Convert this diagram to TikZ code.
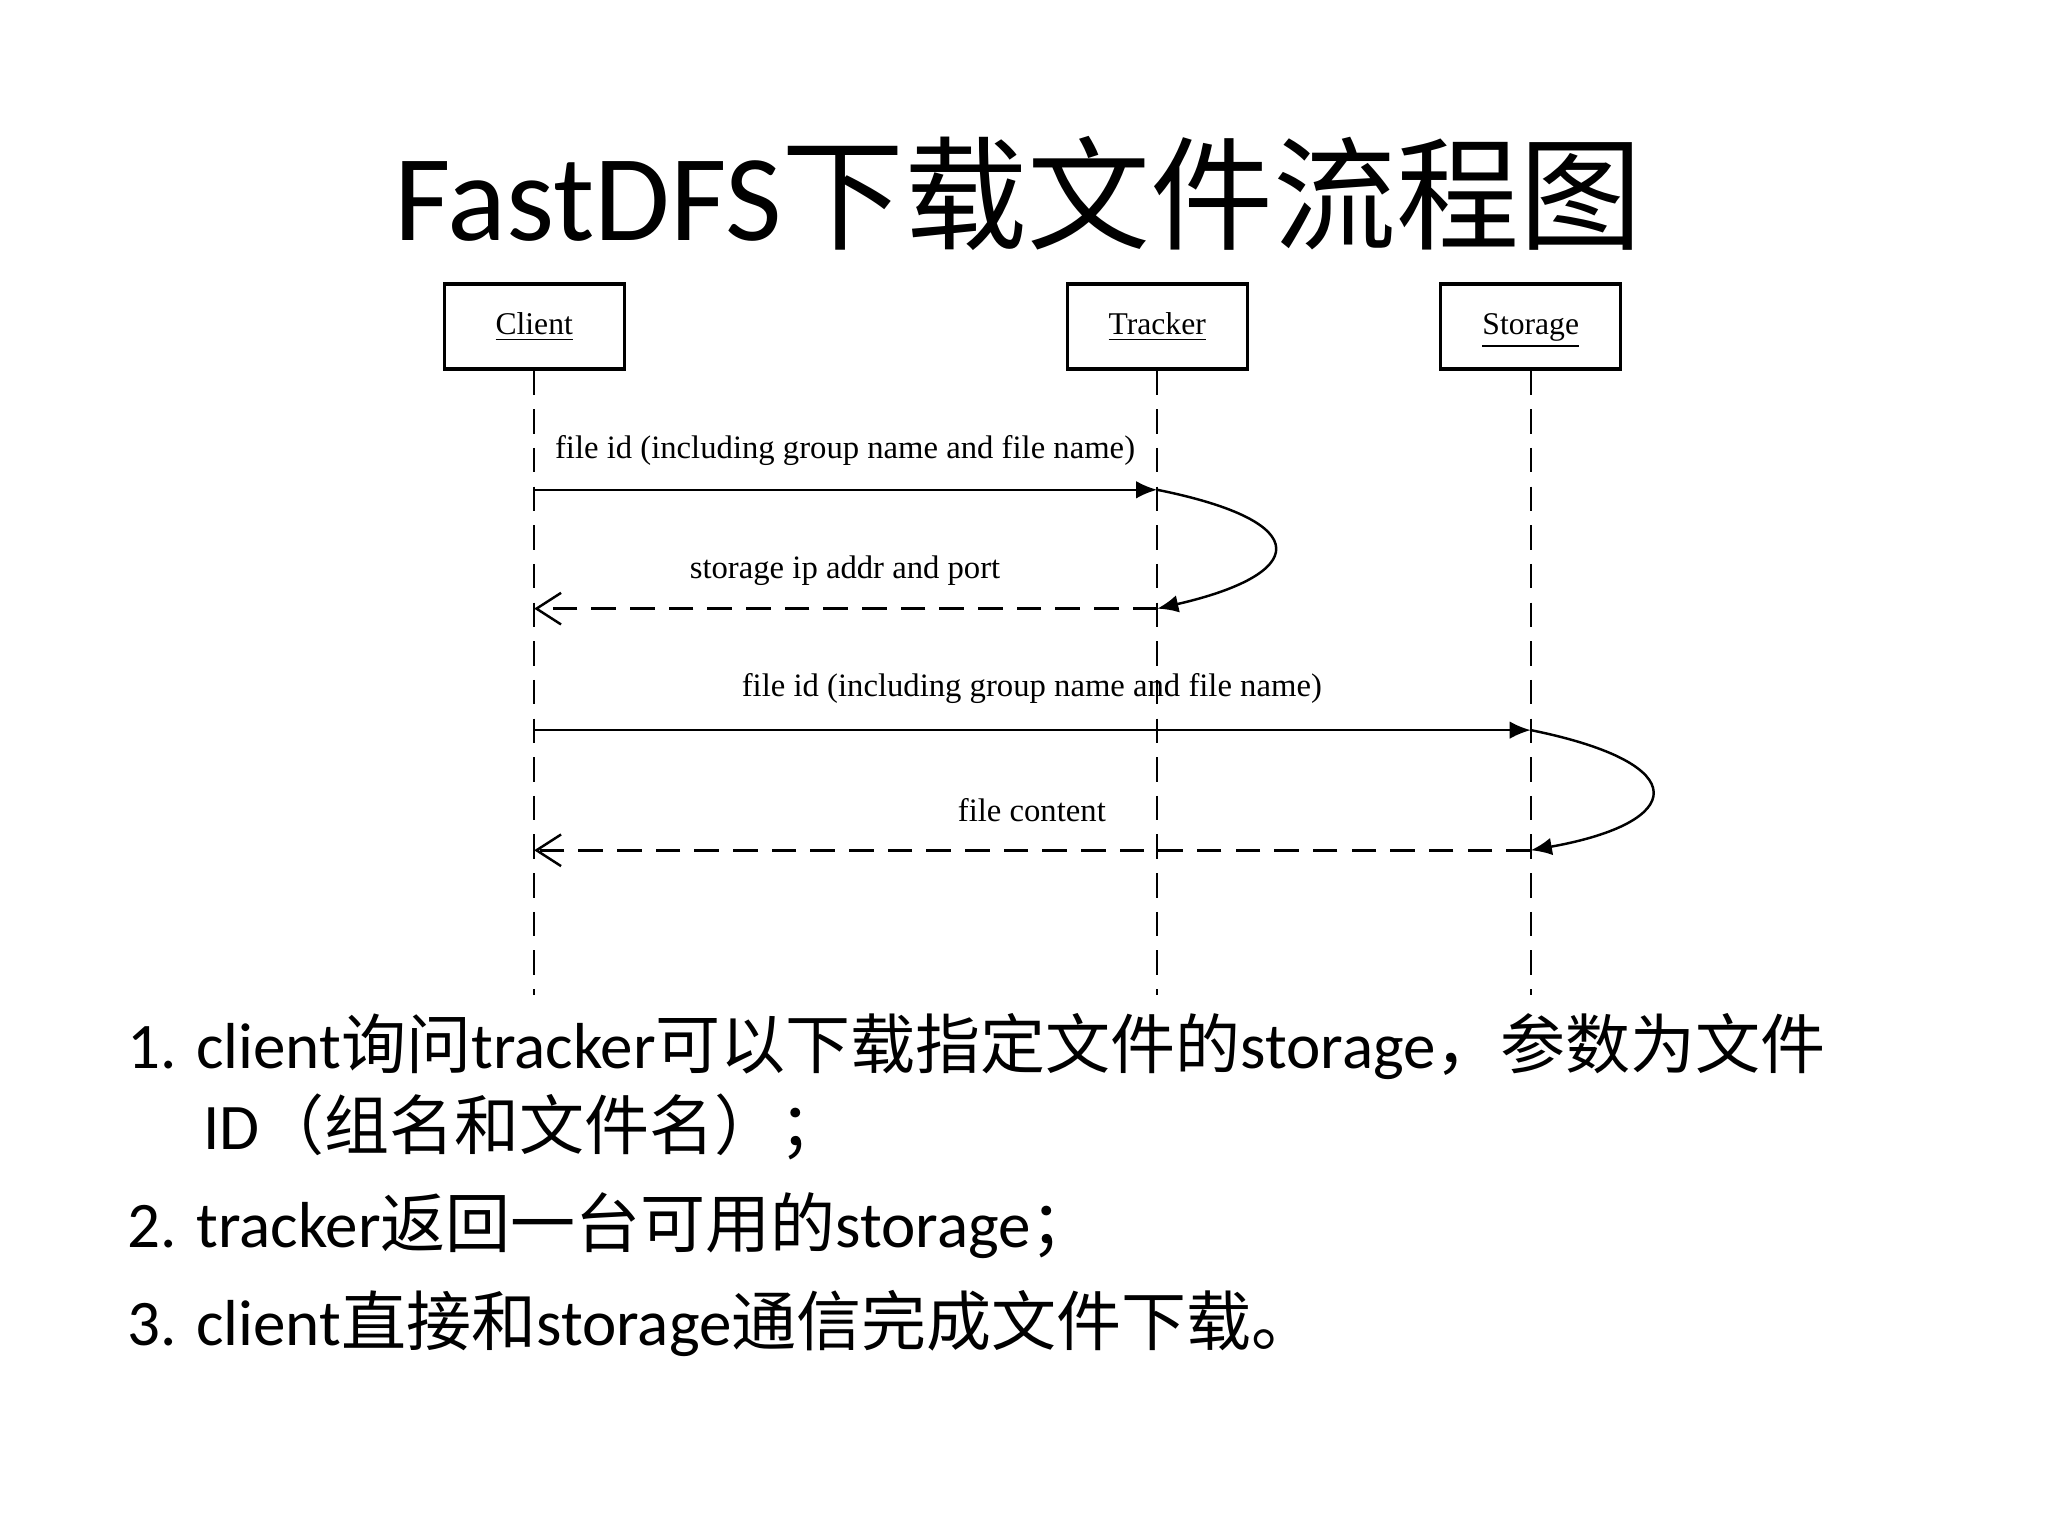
\documentclass[tikz,border=0pt]{standalone}
\usepackage{fontspec}
\setmainfont{Carlito}
\newfontfamily\cjk{Noto Sans CJK SC}
\newfontfamily\tms{Liberation Serif}
\usetikzlibrary{arrows.meta}
\begin{document}
\begin{tikzpicture}[x=0.013066cm,y=-0.013066cm,
  actor/.style={draw,line width=0.9pt,minimum width=138*0.013066cm,minimum height=65*0.013066cm,text depth=0.25em,text height=0.7em,font=\tms\fontsize{9}{11}\selectfont},
  life/.style={dashed,line width=0.7pt,dash pattern=on 7pt off 4pt},
  msg/.style={line width=0.7pt},
  lbl/.style={font=\tms\fontsize{9.3}{11}\selectfont},
  body/.style={anchor=base west,inner sep=0pt,font=\fontsize{18.5}{22}\selectfont}]
\useasboundingbox[fill=white] (0,0) rectangle (1568,1176);
\node[font=\fontsize{35}{42}\selectfont] (title) at (780,148) {FastDFS{\cjk 下载文件流程图}};
\node[actor] (client) at (409,250) {\underline{Client}};
\node[actor] (tracker) at (886,250) {\underline{Tracker}};
\node[actor] (storage) at (1172,250) {\underline{Storage}};
\coordinate (ce) at (409,762);
\coordinate (te) at (886,762);
\coordinate (se) at (1172,762);
\draw[life] (client) -- (ce);
\draw[life] (tracker) -- (te);
\draw[life] (storage) -- (se);
\coordinate (c1) at (409,375); \coordinate (t1) at (886,375);
\coordinate (c2) at (409,466); \coordinate (t2) at (886,466);
\coordinate (c3) at (409,559); \coordinate (s3) at (1172,559);
\coordinate (c4) at (409,651); \coordinate (s4) at (1172,651);
\draw[msg,-{Latex[length=6pt,width=5pt]}] (c1) -- (t1);
\node[lbl] (l1) at (647,345) {file id (including group name and file name)};
\draw[msg,-{Latex[length=6pt,width=5pt]}] (t1) .. controls (1010,400) and (1000,440) .. (t2);
\draw[msg,dashed,dash pattern=on 7pt off 4pt,-{Straight Barb[length=7pt,width=9pt]}] (t2) -- (c2);
\node[lbl] (l2) at (647,437) {storage ip addr and port};
\draw[msg,-{Latex[length=6pt,width=5pt]}] (c3) -- (s3);
\node[lbl] (l3) at (790,527) {file id (including group name and file name)};
\draw[msg,-{Latex[length=6pt,width=5pt]}] (s3) .. controls (1300,585) and (1290,630) .. (s4);
\draw[msg,dashed,dash pattern=on 7pt off 4pt,-{Straight Barb[length=7pt,width=9pt]}] (s4) -- (c4);
\node[lbl] (l4) at (790,620) {file content};
\node[body] (p1) at (97,818) {1. client{\cjk 询问}tracker{\cjk 可以下载指定文件的}storage{\cjk ，参数为文件}};
\node[body] (p1b) at (155,880) {ID{\cjk （组名和文件名）；}};
\node[body] (p2) at (97,955) {2. tracker{\cjk 返回一台可用的}storage{\cjk ；}};
\node[body] (p3) at (97,1030) {3. client{\cjk 直接和}storage{\cjk 通信完成文件下载。}};
\end{tikzpicture}
\end{document}
